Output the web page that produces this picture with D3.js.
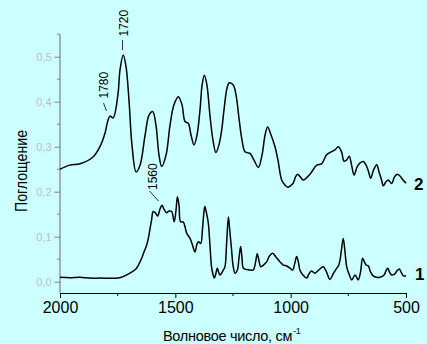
<!DOCTYPE html>
<html><head><meta charset="utf-8">
<script src="https://cdn.jsdelivr.net/npm/d3@7"></script>
<style>
html,body{margin:0;padding:0;background:#ccffff;}
svg{display:block;font-family:Arial,"Liberation Sans",sans-serif;}
</style></head>
<body>
<script>
// Spectrum 2 (upper)
const wn2 = [2000,1957,1913,1857,1827,1805,1792,1783,1770,1749,1740,1726,1714,1701,1688,1670,1653,1631,1614,1598,1584,1571,1559,1540,1523,1506,1487,1471,1458,1444,1432,1419,1406,1393,1384,1374,1363,1350,1337,1324,1311,1299,1289,1276,1266,1249,1237,1223,1211,1198,1176,1159,1140,1124,1111,1100,1085,1068,1055,1039,1025,1013,1001,989,979,970,960,945,916,887,866,844,822,808,793,779,769,758,746,736,725,712,699,685,673,662,653,641,627,617,606,598,587,577,562,550,538,526,513,500];
const abs2 = [0.250,0.259,0.262,0.277,0.300,0.330,0.359,0.368,0.364,0.415,0.470,0.504,0.479,0.404,0.304,0.244,0.259,0.326,0.370,0.378,0.348,0.282,0.256,0.282,0.348,0.393,0.411,0.393,0.356,0.352,0.326,0.304,0.326,0.382,0.437,0.459,0.437,0.370,0.315,0.287,0.304,0.337,0.382,0.430,0.442,0.437,0.415,0.359,0.315,0.289,0.285,0.270,0.254,0.282,0.326,0.344,0.326,0.300,0.270,0.226,0.215,0.210,0.213,0.219,0.233,0.239,0.234,0.226,0.239,0.259,0.262,0.282,0.289,0.293,0.300,0.288,0.268,0.270,0.279,0.259,0.237,0.255,0.264,0.267,0.259,0.244,0.230,0.248,0.260,0.244,0.226,0.213,0.222,0.226,0.218,0.233,0.239,0.235,0.226,0.219];
// Spectrum 1 (lower)
const wn1 = [2000,1957,1913,1870,1827,1749,1723,1697,1670,1646,1636,1624,1616,1610,1603,1596,1586,1577,1566,1558,1550,1538,1528,1516,1505,1497,1491,1484,1477,1466,1458,1451,1436,1426,1415,1406,1400,1390,1382,1376,1372,1365,1357,1350,1343,1337,1331,1326,1318,1313,1306,1298,1292,1285,1278,1270,1265,1256,1250,1241,1231,1224,1217,1211,1205,1191,1176,1162,1152,1145,1137,1130,1118,1104,1092,1078,1064,1046,1032,1017,1003,991,983,974,966,960,947,931,921,910,895,878,859,845,830,814,800,793,786,780,772,764,757,747,735,721,707,697,688,680,673,663,654,642,628,613,595,587,579,572,562,550,539,529,520,511,500];
const abs1 = [0.010,0.009,0.010,0.008,0.008,0.008,0.012,0.019,0.029,0.052,0.066,0.082,0.099,0.117,0.137,0.156,0.153,0.146,0.162,0.170,0.162,0.153,0.157,0.156,0.133,0.159,0.189,0.170,0.133,0.133,0.122,0.108,0.096,0.082,0.066,0.084,0.089,0.085,0.119,0.155,0.167,0.153,0.130,0.082,0.033,0.017,0.008,0.015,0.030,0.022,0.015,0.020,0.026,0.033,0.082,0.144,0.119,0.070,0.037,0.019,0.026,0.053,0.078,0.053,0.030,0.027,0.026,0.026,0.044,0.062,0.046,0.033,0.037,0.044,0.057,0.063,0.055,0.044,0.037,0.035,0.030,0.026,0.039,0.056,0.042,0.026,0.015,0.008,0.017,0.024,0.019,0.026,0.033,0.022,0.005,0.019,0.030,0.035,0.048,0.070,0.096,0.064,0.033,0.017,0.004,0.015,0.004,0.022,0.052,0.044,0.037,0.035,0.022,0.013,0.010,0.010,0.015,0.024,0.030,0.022,0.015,0.017,0.024,0.028,0.020,0.013,0.013];

const xTicks = [2000,1500,1000,500];
const xMinor = [1750,1250,750];
const yTicks = [0,0.1,0.2,0.3,0.4,0.5];
const yMinor = [0.05,0.15,0.25,0.35,0.45,0.55];
const peakLabels = ["1720","1780","1560"];
const seriesLabels = ["2","1"];

const W = 427, H = 344;
const svg = d3.select("body").append("svg").attr("width", W).attr("height", H);
svg.append("rect").attr("width", W).attr("height", H).attr("fill", "#ccffff");

const x = d3.scaleLinear().domain([2000, 500]).range([60, 406]);
const y = d3.scaleLinear().domain([0, 0.5]).range([281.7, 56.7]);
const axisY = 293;

// Y axis
const gy = svg.append("g").attr("transform", "translate(60,0)");
gy.call(d3.axisLeft(y).tickValues(yTicks).tickSize(5.5).tickPadding(3)
  .tickFormat(d => d3.format(".1f")(d).replace(".", ",")));
gy.select(".domain").remove();
gy.selectAll(".tick line").attr("stroke", "#808080");
gy.selectAll(".tick text").attr("fill", "#bdbdbd").attr("font-size", 11)
  .attr("font-family", "Arial, 'Liberation Sans', sans-serif");
gy.append("line").attr("x1", 0).attr("x2", 0).attr("y1", y(0.55)).attr("y2", axisY)
  .attr("stroke", "#808080").attr("stroke-width", 1.2);
gy.selectAll(".minor").data(yMinor).enter().append("line")
  .attr("x1", -3).attr("x2", 0).attr("y1", d => y(d)).attr("y2", d => y(d))
  .attr("stroke", "#808080");

// X axis
const gx = svg.append("g").attr("transform", `translate(0,${axisY})`);
gx.call(d3.axisBottom(x).tickValues(xTicks).tickSize(5).tickSizeOuter(0).tickPadding(4)
  .tickFormat(d3.format("d")));
gx.select(".domain").attr("stroke", "#000").attr("stroke-width", 1.2);
gx.selectAll(".tick line").attr("stroke", "#000");
gx.selectAll(".tick text").attr("fill", "#000").attr("font-size", 16)
  .attr("font-family", "Arial, 'Liberation Sans', sans-serif");
gx.selectAll(".minor").data(xMinor).enter().append("line")
  .attr("x1", d => x(d)).attr("x2", d => x(d)).attr("y1", 0).attr("y2", 3)
  .attr("stroke", "#000");

// Lines
const line = d3.line().x(d => x(d[0])).y(d => y(d[1])).curve(d3.curveCatmullRom.alpha(0.5));
svg.append("path").datum(wn2.map((w, i) => [w, abs2[i]])).attr("d", line)
  .attr("fill", "none").attr("stroke", "#000").attr("stroke-width", 1.5);
svg.append("path").datum(wn1.map((w, i) => [w, abs1[i]])).attr("d", line)
  .attr("fill", "none").attr("stroke", "#000").attr("stroke-width", 1.5);

// Series labels
svg.append("text").attr("x", 414).attr("y", 190).attr("font-size", 17).attr("font-weight", "bold")
  .text(seriesLabels[0]);
svg.append("text").attr("x", 415).attr("y", 280).attr("font-size", 17).attr("font-weight", "bold")
  .text(seriesLabels[1]);

// Peak annotations (rotated)
function peak(label, tx, ty, lx1, ly1, lx2, ly2) {
  svg.append("text").attr("transform", `translate(${tx},${ty}) rotate(-90)`)
    .attr("font-size", 12).attr("fill", "#000").text(label);
  svg.append("line").attr("x1", lx1).attr("y1", ly1).attr("x2", lx2).attr("y2", ly2)
    .attr("stroke", "#000").attr("stroke-width", 0.8);
}
peak(peakLabels[0], 127.5, 36.5, 122.5, 40, 122.5, 50);
peak(peakLabels[1], 107.5, 98.5, 103.5, 103, 106.5, 111);
peak(peakLabels[2], 156.5, 190, 149.5, 191, 158.5, 201);

// Axis titles
svg.append("text").attr("transform", "translate(27,212) rotate(-90)")
  .attr("font-size", 16).attr("fill", "#000")
  .attr("textLength", 82).attr("lengthAdjust", "spacingAndGlyphs")
  .text("Поглощение");
const xt = svg.append("text").attr("x", 163).attr("y", 341).attr("font-size", 14.5)
  .attr("fill", "#000").attr("letter-spacing", "-0.3");
xt.append("tspan").text("Волновое число, см");
xt.append("tspan").attr("font-size", 9).attr("dy", -7).attr("dx", 1).text("-1");
</script>
</body></html>
